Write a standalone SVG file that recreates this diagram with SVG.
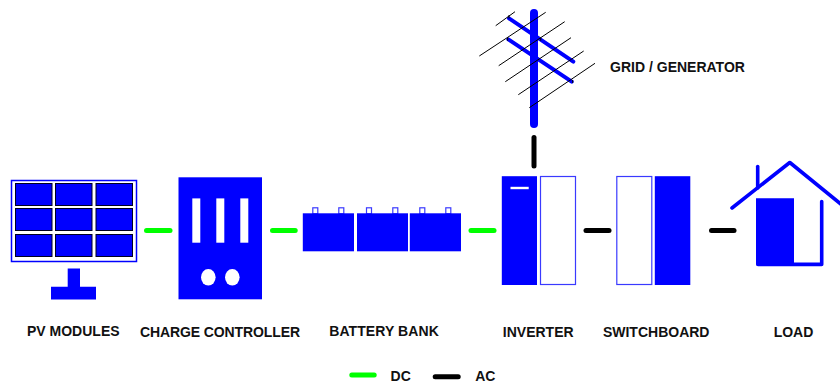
<svg xmlns="http://www.w3.org/2000/svg" width="840" height="385" viewBox="0 0 840 385">
<style>
.f{fill:#0000ff}
.cell{fill:#0000ff;stroke:#000022;stroke-width:1}
.o{fill:#fff;stroke:#3a3aff;stroke-width:1.2}
.dc{stroke:#00ff00;stroke-width:5;stroke-linecap:round;fill:none}
.ac{stroke:#000;stroke-width:5;stroke-linecap:round;fill:none}
.t{font-family:"Liberation Sans",Arial,sans-serif;font-weight:700;font-size:14px;fill:#111;text-anchor:middle}
.b{stroke:#0000ff;fill:none;stroke-linecap:round}
.w{stroke:#000;stroke-width:1;fill:none}
</style>
<g id="connectors">
<path class="dc" d="M146.500 230.400H170"/>
<path class="dc" d="M272.500 230.400H295.200"/>
<path class="dc" d="M471 230.400H494"/>
<path class="ac" d="M586 230.400H609"/>
<path class="ac" d="M711.500 230.400H734"/>
<path class="ac" d="M534 137.500V166"/>
</g>
<g id="pv-modules">
<rect x="11.500" y="180.500" width="125" height="81" fill="#fff" stroke="#0000ff" stroke-width="1.500"/>
<rect class="cell" x="15.500" y="183.500" width="36.500" height="22"/>
<rect class="cell" x="55.500" y="183.500" width="36.500" height="22"/>
<rect class="cell" x="96" y="183.500" width="36.500" height="22"/>
<rect class="cell" x="15.500" y="208.500" width="36.500" height="22"/>
<rect class="cell" x="55.500" y="208.500" width="36.500" height="22"/>
<rect class="cell" x="96" y="208.500" width="36.500" height="22"/>
<rect class="cell" x="15.500" y="234.500" width="36.500" height="22"/>
<rect class="cell" x="55.500" y="234.500" width="36.500" height="22"/>
<rect class="cell" x="96" y="234.500" width="36.500" height="22"/>
<path class="f" d="M67.700 268.400H80V286.700H96V299.400H51V286.700H67.700Z"/>
</g>
<g id="charge-controller">
<rect class="f" x="178.500" y="177.300" width="83.500" height="122"/>
<rect x="192.300" y="198.400" width="8" height="44.300" fill="#fff"/>
<rect x="216.300" y="198.400" width="8" height="44.300" fill="#fff"/>
<rect x="240.300" y="198.400" width="8" height="44.300" fill="#fff"/>
<ellipse cx="208.300" cy="277.300" rx="7.300" ry="8.300" fill="#fff"/>
<ellipse cx="232.300" cy="277.300" rx="7.300" ry="8.300" fill="#fff"/>
</g>
<g id="battery-bank">
<rect class="o" x="312.800" y="207.800" width="5" height="6"/>
<rect class="o" x="338.800" y="207.800" width="5" height="6"/>
<rect class="o" x="366.500" y="207.800" width="5" height="6"/>
<rect class="o" x="392.800" y="207.800" width="5" height="6"/>
<rect class="o" x="419.800" y="207.800" width="5" height="6"/>
<rect class="o" x="445.800" y="207.800" width="5" height="6"/>
<rect class="f" x="302.800" y="213.300" width="51.200" height="38"/>
<rect class="f" x="357" y="213.300" width="51" height="38"/>
<rect class="f" x="409.800" y="213.300" width="51.200" height="38"/>
</g>
<g id="inverter">
<rect class="f" x="501.800" y="176.200" width="35.200" height="108.800"/>
<rect x="510.500" y="186.800" width="18.200" height="2.400" fill="#fff"/>
<rect class="o" x="540.500" y="176.500" width="35" height="108"/>
</g>
<g id="switchboard">
<rect class="o" x="616.800" y="176.500" width="35" height="108"/>
<rect class="f" x="654.800" y="176.200" width="35.500" height="108.800"/>
</g>
<g id="load">
<path class="b" stroke-width="3.600" stroke-linejoin="round" d="M732 208L789.800 162.500L842 205"/>
<path class="b" stroke-width="3.600" d="M757.700 166.500V188"/>
<path class="f" d="M756 198.300H794V264H820V266H758Q756 266 756 264Z"/>
<path class="b" stroke-width="3.600" stroke-linejoin="round" d="M758 264.400H821.700V201.500"/>
</g>
<g id="grid-generator">
<path class="b" stroke-width="8" d="M534 13V124"/>
<path class="b" stroke-width="4" d="M509 18.300L573.300 61.700"/>
<path class="b" stroke-width="4" d="M508.300 39.300L571.700 81.700"/>
<path class="w" d="M495.700 25.700L515 11.700"/>
<path class="w" d="M479.300 56L545.700 12.300"/>
<path class="w" d="M498.700 65.700L564.700 21.700"/>
<path class="w" d="M505.300 81.700L571 37.700"/>
<path class="w" d="M518.300 94.700L583.700 51"/>
<path class="w" d="M529.300 107.700L595 63.300"/>
<path class="w" d="M509 15V18.500"/>
<path class="w" d="M507.700 37.500V40.700"/>
<path class="w" d="M540.700 37.500V40.700"/>
<path class="w" d="M572.700 80V83"/>
</g>
<g id="labels">
<text class="t" x="73.300" y="336">PV MODULES</text>
<text class="t" x="220" y="337" textLength="160">CHARGE CONTROLLER</text>
<text class="t" x="384" y="336" textLength="109.500">BATTERY BANK</text>
<text class="t" x="538.200" y="337">INVERTER</text>
<text class="t" x="656.200" y="337">SWITCHBOARD</text>
<text class="t" x="793.500" y="337">LOAD</text>
<text class="t" x="677.500" y="72">GRID / GENERATOR</text>
<text class="t" x="400.700" y="381">DC</text>
<text class="t" x="485.300" y="381">AC</text>
</g>
<g id="legend">
<path class="dc" d="M351.800 375H374.200"/>
<path class="ac" d="M435.200 376.700H458.200"/>
</g>
</svg>
